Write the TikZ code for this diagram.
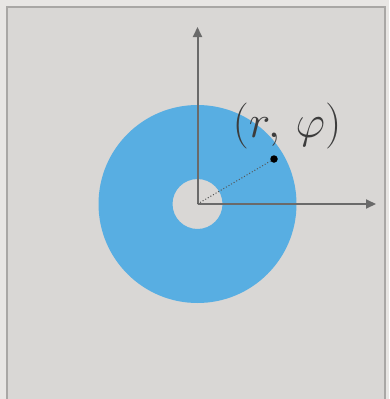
\RequirePackage{fix-cm}
\documentclass[tikz,border=0pt]{standalone}
\usetikzlibrary{arrows.meta}
\definecolor{outerbg}{HTML}{E8E6E4}
\definecolor{innerbg}{HTML}{D9D7D5}
\definecolor{framec}{HTML}{A9A7A5}
\definecolor{diskc}{HTML}{58AEE2}
\definecolor{axisc}{HTML}{6A6A6A}
\definecolor{textc}{HTML}{3C3C3C}
\tikzset{
  axis/.style={draw=axisc, line width=2pt, -{Triangle[length=10pt,width=9pt]}},
  radial/.style={draw=axisc!80!black, line width=1pt, dotted},
  ptdot/.style={circle, fill=black, inner sep=0pt, minimum size=7.5pt},
}
\begin{document}
\begin{tikzpicture}[x=1pt,y=-1pt]
\useasboundingbox (0,0) rectangle (389,399);
\fill[outerbg] (0,0) rectangle (389,399);
\fill[innerbg, draw=framec, line width=2pt] (7,7) rectangle (385,410);
\coordinate (O) at (197.5,204);
\fill[diskc, even odd rule] (O) circle[radius=99] (O) circle[radius=25];
\coordinate (ytip) at (197.5,27);
\coordinate (xtip) at (376,204);
\draw[axis] (O) -- (ytip);
\draw[axis] (O) -- (xtip);
\node[ptdot] (P) at (274,159) {};
\draw[radial] (O) -- (P);
\node[text=textc, font=\fontsize{46}{54}\selectfont] (lab) at (287,126) {$(r,\,\varphi)$};
\end{tikzpicture}
\end{document}
